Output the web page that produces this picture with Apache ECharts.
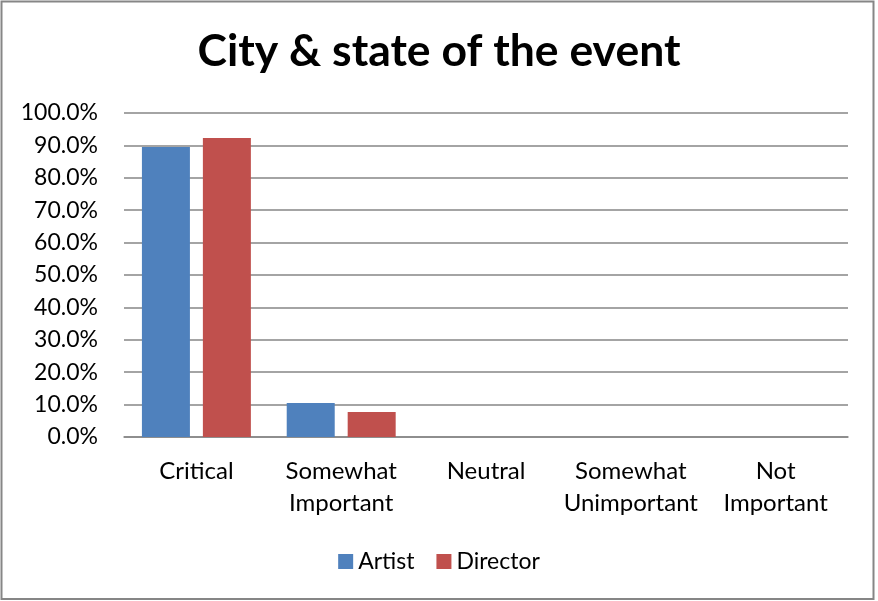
<!DOCTYPE html>
<html>
<head>
<meta charset="utf-8">
<script src="https://cdn.jsdelivr.net/npm/echarts@6/dist/echarts.min.js"></script>
<style>
  html, body { margin: 0; padding: 0; background: #fff; }
  #chart { width: 878px; height: 601px; }
</style>
</head>
<body>
<div id="chart"></div>
<script>
// Survey responses: how important is the city & state of the event
var categories = ['Critical', 'Somewhat\nImportant', 'Neutral', 'Somewhat\nUnimportant', 'Not\nImportant'];
var artistValues = [0.895, 0.105, 0, 0, 0];
var directorValues = [0.923, 0.077, 0, 0, 0];
var seriesNames = ['Artist', 'Director'];
var titleText = 'City & state of the event';

var FONT = 'Lato, "Open Sans", sans-serif';

var chart = echarts.init(document.getElementById('chart'));
chart.setOption({
  backgroundColor: '#ffffff',
  animation: false,
  title: {
    text: titleText,
    left: 'center',
    top: 24,
    textStyle: { fontFamily: FONT, fontWeight: 'bold', fontSize: 44.5, color: '#000' }
  },
  legend: {
    data: seriesNames,
    top: 545,
    left: 'center',
    icon: 'rect',
    itemWidth: 15,
    itemHeight: 15,
    itemGap: 22,
    textStyle: { fontFamily: FONT, fontSize: 23, color: '#000' }
  },
  grid: { left: 124, right: 30, top: 113, bottom: 164, containLabel: false },
  xAxis: {
    type: 'category',
    data: categories,
    axisLine: { show: true, lineStyle: { color: '#868686', width: 1.5 } },
    axisTick: { show: false },
    axisLabel: {
      fontFamily: FONT, fontSize: 24, color: '#000',
      lineHeight: 32, margin: 18, interval: 0, align: 'center'
    }
  },
  yAxis: {
    type: 'value',
    min: 0,
    max: 1,
    interval: 0.1,
    axisLine: { show: false },
    axisTick: { show: false },
    splitLine: { lineStyle: { color: '#868686', width: 1.5 } },
    axisLabel: {
      fontFamily: FONT, fontSize: 23, color: '#000', margin: 26,
      formatter: function (v) { return (v * 100).toFixed(1) + '%'; }
    }
  },
  series: [
    {
      name: seriesNames[0],
      type: 'bar',
      data: artistValues,
      barWidth: 48,
      barGap: '27%',
      itemStyle: { color: '#4F81BD' }
    },
    {
      name: seriesNames[1],
      type: 'bar',
      data: directorValues,
      barWidth: 48,
      itemStyle: { color: '#C0504D' }
    }
  ],
  graphic: [
    {
      type: 'rect',
      shape: { x: 1.5, y: 1.5, width: 872, height: 597.5 },
      style: { fill: null, stroke: '#868686', lineWidth: 2 },
      silent: true
    }
  ]
});
</script>
</body>
</html>
